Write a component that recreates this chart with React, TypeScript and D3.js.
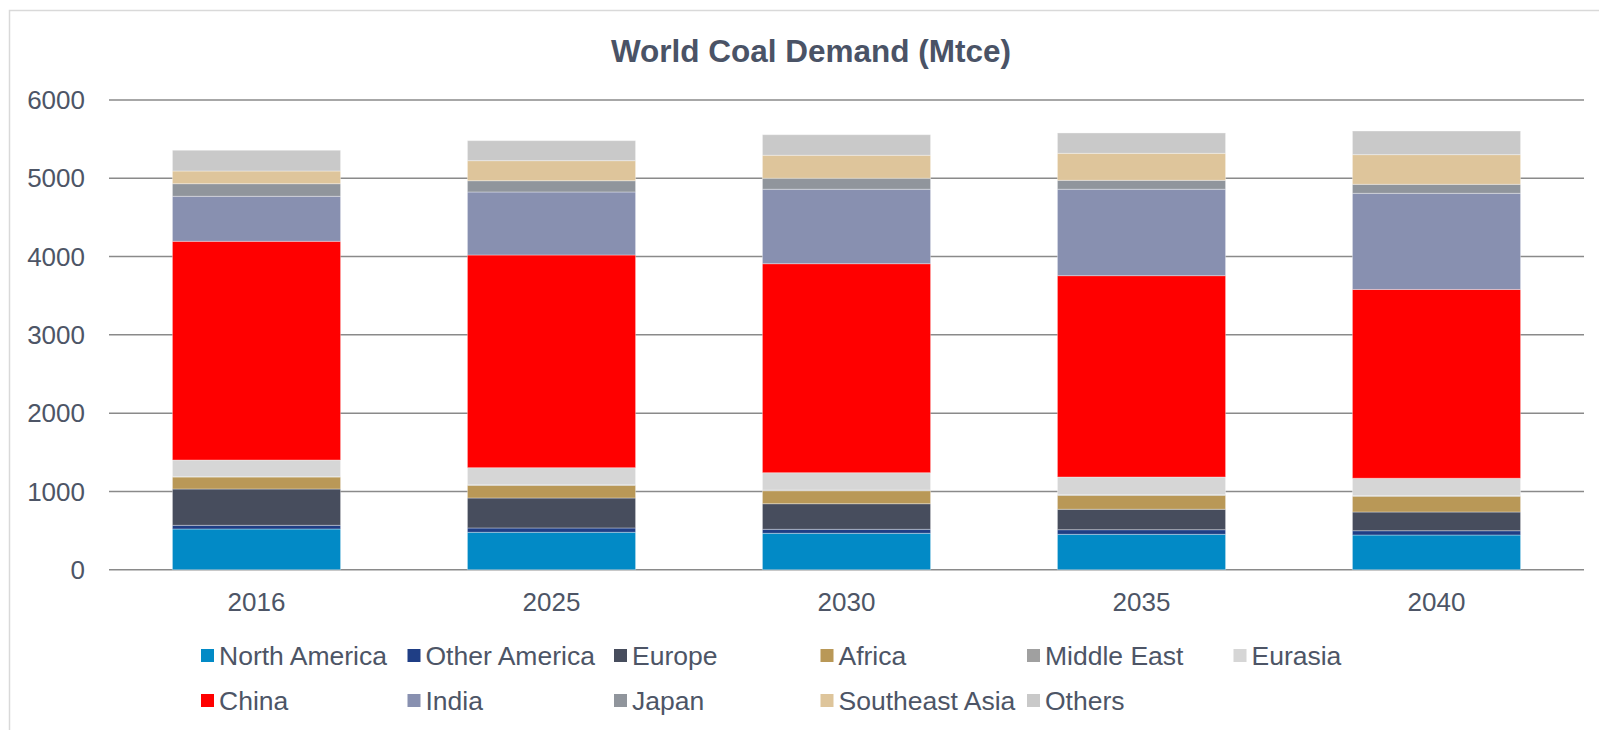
import React from "react";
import * as d3 from "d3";

const years = ["2016", "2025", "2030", "2035", "2040"];
const seriesNames = [
  "North America", "Other America", "Europe", "Africa", "Middle East", "Eurasia",
  "China", "India", "Japan", "Southeast Asia", "Others",
];
const seriesColors = [
  "#028ac6", "#1f3e85", "#474d5d", "#b99857", "#a0a0a0", "#d6d6d6",
  "#ff0000", "#8890b0", "#90959c", "#dec59b", "#c9c9c9",
];
const northAmerica = [520, 478, 465, 452, 443];
const otherAmerica = [47, 55, 51, 59, 55];
const europe = [464, 383, 327, 261, 239];
const africa = [153, 162, 166, 178, 201];
const middleEast = [5, 7, 8, 9, 10];
const eurasia = [212, 218, 222, 225, 220];
const china = [2794, 2717, 2670, 2572, 2412];
const india = [575, 805, 951, 1104, 1228];
const japan = [161, 144, 140, 114, 115];
const southeastAsia = [162, 256, 294, 345, 379];
const others = [265, 256, 263, 260, 302];
const yTicks = [0, 1000, 2000, 3000, 4000, 5000, 6000];

const seriesValues = [
  northAmerica, otherAmerica, europe, africa, middleEast, eurasia,
  china, india, japan, southeastAsia, others,
];

const W = 1599;
const H = 730;
const FONT = "'Liberation Sans', Arial, sans-serif";
const TEXT = "#4d5566";

export default function App() {
  const x = d3.scaleBand<string>().domain(years).range([109, 1584]).paddingInner(0.43).paddingOuter(0.215);
  const y = d3.scaleLinear().domain([0, 6000]).range([569.7, 100]);

  const table = years.map((yr, i) => {
    const row: Record<string, number | string> = { year: yr };
    seriesNames.forEach((s, k) => (row[s] = seriesValues[k][i]));
    return row;
  });
  const stacked = d3.stack<any>().keys(seriesNames)(table);

  const legendRows = [seriesNames.slice(0, 6), seriesNames.slice(6)];

  return (
    <svg width={W} height={H} style={{ position: "absolute", left: 0, top: 0, background: "#fff" }} fontFamily={FONT}>
      <rect x={9.5} y={10.5} width={1600} height={740} fill="#fff" stroke="#d9d9d9" strokeWidth={1.5} />
      <text x={811} y={62} textAnchor="middle" fontSize={31.5} fontWeight="bold" fill="#4a5366">
        World Coal Demand (Mtce)
      </text>
      {yTicks.map((t) => (
        <g key={t}>
          <line x1={109} x2={1584} y1={y(t)} y2={y(t)} stroke="#8a8a8a" strokeWidth={1.5} />
          <text x={85} y={y(t)} dy="0.35em" textAnchor="end" fontSize={26} fill={TEXT}>
            {t}
          </text>
        </g>
      ))}
      {stacked.map((layer, k) => (
        <g key={layer.key} fill={seriesColors[k]}>
          {layer.map((d, i) => (
            <rect
              key={i}
              x={x(years[i])}
              width={x.bandwidth()}
              y={y(d[1])}
              height={Math.max(0, y(d[0]) - y(d[1]))}
              stroke="#ffffff"
              strokeOpacity={0.35}
              strokeWidth={1}
            />
          ))}
        </g>
      ))}
      {years.map((yr) => (
        <text key={yr} x={(x(yr) as number) + x.bandwidth() / 2} y={602} dy="0.35em" textAnchor="middle" fontSize={26} fill={TEXT}>
          {yr}
        </text>
      ))}
      {legendRows.map((row, r) =>
        row.map((name, c) => {
          const idx = seriesNames.indexOf(name);
          const lx = 201 + c * 206.5;
          const ly = 656 + r * 45;
          return (
            <g key={name}>
              <rect x={lx} y={ly - 7} width={13} height={13} fill={seriesColors[idx]} />
              <text x={lx + 18} y={ly} dy="0.35em" fontSize={26.5} fill={TEXT}>
                {name}
              </text>
            </g>
          );
        })
      )}
    </svg>
  );
}
